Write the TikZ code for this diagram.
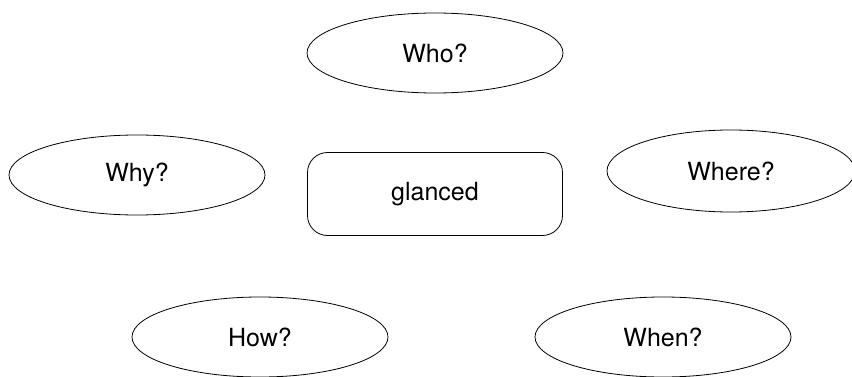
\documentclass[tikz,border=0pt]{standalone}
\usepackage{fontspec}
\setmainfont{TeX Gyre Heros}
\usetikzlibrary{shapes.geometric}

\begin{document}
\begin{tikzpicture}[x=1pt,y=-1pt,
      question/.style={draw,ellipse,line width=0.8pt,inner sep=0pt,
      minimum width=256pt,minimum height=80pt,font=\fontsize{25}{30}\selectfont},
      word/.style={draw,rounded corners=20pt,line width=0.8pt,inner sep=0pt,
      minimum width=255pt,minimum height=83pt,font=\fontsize{25}{30}\selectfont}
    ]
    \useasboundingbox (0,0) rectangle (852,377);
    \clip (0,0) rectangle (852,377);
    \node[word] at (435,194) (verb) {glanced};
    \node[question] at (435,53) (who) {Who?};
    \node[question] at (137,175) (why) {Why?};
    \node[question,minimum width=248pt,minimum height=82pt] at (731,171) (where) {Where?};
    \node[question] at (260,337) (how) {How?};
    \node[question] at (663,337) (when) {When?};
  \end{tikzpicture}
\end{document}
